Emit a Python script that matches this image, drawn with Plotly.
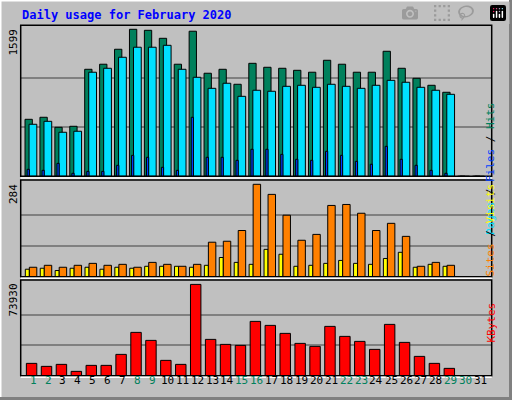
import plotly.graph_objects as go

days = list(range(1, 32))
day_labels = [str(d) for d in days]
weekend = {1, 2, 8, 9, 15, 16, 22, 23, 29, 30}

hits = [620, 642, 533, 544, 1164, 1219, 1382, 1599, 1588, 1501, 1219, 1578, 1121, 1164, 1001, 1229,
        1186, 1175, 1153, 1132, 1262, 1219, 1132, 1132, 1360, 1175, 1066, 990, 914, 0, 0]
files = [566, 598, 479, 490, 1132, 1175, 1295, 1404, 1404, 1425, 1164, 1077, 957, 1012, 870, 936,
         925, 979, 990, 968, 1001, 979, 957, 990, 1044, 1023, 968, 936, 892, 0, 0]
pages = [76, 65, 141, 33, 54, 54, 120, 228, 207, 98, 65, 642, 207, 207, 174, 294,
         294, 239, 185, 174, 272, 228, 163, 131, 326, 185, 120, 65, 33, 0, 0]
sites = [29, 35, 29, 35, 41, 35, 38, 29, 44, 38, 32, 38, 106, 109, 142, 284,
         253, 189, 112, 130, 219, 222, 195, 142, 164, 124, 32, 44, 35, 0, 0]
visits = [23, 26, 19, 26, 29, 23, 29, 26, 32, 32, 32, 29, 35, 59, 44, 38,
          84, 69, 32, 35, 41, 50, 41, 38, 56, 75, 29, 38, 32, 0, 0]
kbytes = [9983, 7554, 9173, 3507, 8364, 8364, 17267, 35074, 28599, 12411, 9173, 73930, 29408, 25361,
          24552, 43977, 40740, 34265, 26171, 23742, 39930, 31836, 27789, 21314, 41549, 26980, 15648,
          9983, 5936, 0, 0]

BG = "#C0C0C0"
MONO = "DejaVu Sans Mono"
fig = go.Figure()

def bar(y, color, off, w, ax):
    fig.add_trace(go.Bar(x=days, y=y, offset=off, width=w, marker=dict(color=color, line=dict(color="black", width=1)),
                         xaxis="x" + ax, yaxis="y" + ax, showlegend=False, hoverinfo="skip"))

bar(hits, "#00805C", -0.54, 0.49, "")
bar(files, "#00E0FF", -0.27, 0.52, "")
bar(pages, "#0040FF", -0.40, 0.15, "")
bar(visits, "#FFFF00", -0.52, 0.27, "2")
bar(sites, "#FF8000", -0.25, 0.50, "2")
bar(kbytes, "#FF0000", -0.45, 0.70, "3")

maxes = [max(hits), max(sites), max(kbytes)]
ranges = [max(hits) * 151 / 147, max(sites) * 96.7 / 92.4, max(kbytes) * 95.7 / 91.3]
doms = [[1 - 176.3 / 400, 1 - 25.3 / 400], [1 - 276.7 / 400, 1 - 180 / 400], [1 - 375.7 / 400, 1 - 280 / 400]]
layout = dict(barmode="overlay", width=512, height=400, margin=dict(l=0, r=0, t=0, b=0),
              paper_bgcolor=BG, plot_bgcolor=BG, font=dict(family=MONO, size=11, color="black"))
for i, sfx in enumerate(["", "2", "3"]):
    layout["xaxis" + sfx] = dict(domain=[20.7 / 512, 491.7 / 512], range=[0.17, 31.74], showticklabels=False,
                                 showgrid=False, zeroline=False, anchor="y" + sfx, fixedrange=True)
    layout["yaxis" + sfx] = dict(domain=doms[i], range=[0, ranges[i]], tickvals=[maxes[i] / 3, 2 * maxes[i] / 3],
                                 showticklabels=False, gridcolor="#808080", gridwidth=1.5, zeroline=False,
                                 anchor="x" + sfx, fixedrange=True)
fig.update_layout(**layout)

ann = []
ann.append(dict(x=20 / 512, y=1 - 15 / 400, xref="paper", yref="paper", text="<b>Daily usage for February 2020</b>",
                showarrow=False, xanchor="left", yanchor="middle", font=dict(color="#0000FF", size=12, family=MONO)))
for lbl, yp in [(str(maxes[0]), 27), (str(maxes[1]), 182), (str(maxes[2]), 282)]:
    ann.append(dict(x=13 / 512, y=1 - yp / 400, xref="paper", yref="paper", text=lbl, textangle=-90, showarrow=False,
                    xanchor="center", yanchor="top", font=dict(size=11, family=MONO)))
for d, lbl in zip(days, day_labels):
    ann.append(dict(x=d, y=1 - 389 / 400, xref="x3", yref="paper", text=lbl, showarrow=False,
                    font=dict(size=11, family=MONO, color="#00805C" if d in weekend else "black")))
ann.append(dict(x=499 / 512, y=1 - 100 / 400, xref="paper", yref="paper", showarrow=False, textangle=-90,
                text='<span style="color:#00E0FF">Pages</span> / <span style="color:#0040FF">Files</span> / <span style="color:#00805C">Hits</span>',
                font=dict(size=11, family=MONO)))
ann.append(dict(x=499 / 512, y=1 - 230 / 400, xref="paper", yref="paper", showarrow=False, textangle=-90,
                text='<span style="color:#FF8000">Sites</span> / <span style="color:#FFFF00">Visits</span>',
                font=dict(size=11, family=MONO)))
ann.append(dict(x=499 / 512, y=1 - 345 / 400, xref="paper", yref="paper", showarrow=False, textangle=-90,
                text='<span style="color:#FF0000">KBytes</span>', font=dict(size=11, family=MONO)))

shapes = [
    dict(type="rect", xref="paper", yref="paper", x0=0, x1=1, y0=0, y1=1, line=dict(color="white", width=3)),
    dict(type="line", xref="paper", yref="paper", x0=1, x1=1, y0=0, y1=1, line=dict(color="#808080", width=6)),
    dict(type="line", xref="paper", yref="paper", x0=0, x1=1, y0=0, y1=0, line=dict(color="#808080", width=6)),
]
for i in range(3):
    y0, y1 = doms[i]
    shapes.append(dict(type="rect", xref="paper", yref="paper", x0=20.7 / 512, x1=491.7 / 512, y0=y0, y1=y1,
                       line=dict(color="black", width=1.5)))
    shapes.append(dict(type="line", xref="paper", yref="paper", x0=20.7 / 512, x1=491.7 / 512, y0=y0 - 0.004, y1=y0 - 0.004,
                       line=dict(color="white", width=1.5)))
fig.update_layout(annotations=ann, shapes=shapes)
fig.write_html("out.html", post_script="document.body.style.margin='0';document.body.style.overflow='hidden';")
